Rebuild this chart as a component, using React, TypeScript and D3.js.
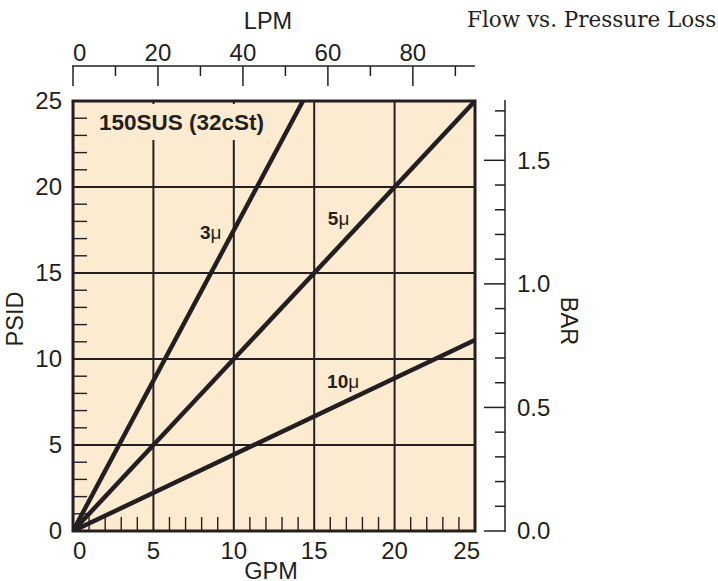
import React from 'react';
import * as d3 from 'd3';

// ---- data ----
const gpmTicks = [0, 5, 10, 15, 20, 25];
const psidTicks = [0, 5, 10, 15, 20, 25];
const lpmMajor = [0, 20, 40, 60, 80];
const lpmMinor = [10, 30, 50, 70, 90];
const barMajor = [0.0, 0.5, 1.0, 1.5];
const barMinor = [0.1, 0.2, 0.3, 0.4, 0.6, 0.7, 0.8, 0.9, 1.1, 1.2, 1.3, 1.4, 1.6, 1.7];
const seriesNames = ['3', '5', '10'];
const seriesGpm = [[0, 14.3], [0, 25], [0, 25]];
const seriesPsid = [[0, 25], [0, 25], [0, 11.1]];
const labelGpm = [7.9, 15.85, 15.8];
const labelPsid = [17.0, 17.8, 8.3];
const title = 'Flow vs. Pressure Loss';
const viscosity = '150SUS (32cSt)';

const W = 718, H = 581;
const L = 73, R = 475, T = 101, B = 531;
const INK = '#231f20';
const BG = '#fdebd1';
const SANS = '"Liberation Sans", Arial, sans-serif';
const TICK = 24;
const LAB = 23.5;

export default function App() {
  const x = d3.scaleLinear().domain([0, 25]).range([L, R]);
  const y = d3.scaleLinear().domain([0, 25]).range([B, T]);
  const lpm = d3.scaleLinear().domain([0, 25 * 3.785]).range([L, R]);
  const bar = d3.scaleLinear().domain([0, 1.74]).range([B, T]);
  const line = d3.line<[number, number]>().x(d => x(d[0])).y(d => y(d[1]));

  const minorGpm = d3.range(1, 25).filter(v => v % 5 !== 0);
  const minorPsid = d3.range(1, 25).filter(v => v % 5 !== 0);

  return (
    <svg width={W} height={H} style={{ position: 'absolute', left: 0, top: 0 }} fontFamily={SANS}>
      <defs>
        <clipPath id="plot"><rect x={L} y={T} width={R - L} height={B - T} /></clipPath>
      </defs>
      {/* title */}
      <text x={467} y={27} fontFamily='"DejaVu Serif", serif' fontSize={21.5} fill={INK}>{title}</text>
      {/* cut-off label of neighbour chart */}
      <text transform={`translate(734,322) rotate(-90)`} textAnchor="middle" fontSize={22} fill={INK}>PSID</text>

      {/* plot background */}
      <rect x={L} y={T} width={R - L} height={B - T} fill={BG} />
      {/* grid */}
      {gpmTicks.slice(1, -1).map(v => (
        <line key={'gx' + v} x1={x(v)} x2={x(v)} y1={T} y2={B} stroke={INK} strokeWidth={2} />
      ))}
      {psidTicks.slice(1, -1).map(v => (
        <line key={'gy' + v} x1={L} x2={R} y1={y(v)} y2={y(v)} stroke={INK} strokeWidth={2} />
      ))}
      {/* inner minor ticks */}
      {minorPsid.map(v => (
        <line key={'my' + v} x1={L} x2={L + 14} y1={y(v)} y2={y(v)} stroke={INK} strokeWidth={1.4} />
      ))}
      {minorGpm.map(v => (
        <line key={'mx' + v} x1={x(v)} x2={x(v)} y1={B} y2={B - 14} stroke={INK} strokeWidth={1.4} />
      ))}
      {/* viscosity label */}
      <rect x={89} y={104} width={186} height={36} fill={BG} />
      <text x={99} y={130} fontSize={22.5} fontWeight="bold" fill={INK}>{viscosity}</text>

      {/* series */}
      <g clipPath="url(#plot)">
        {seriesNames.map((n, i) => (
          <path key={'s' + n}
            d={line(seriesGpm[i].map((g, j) => [g, seriesPsid[i][j]] as [number, number])) || ''}
            fill="none" stroke={INK} strokeWidth={4.5} />
        ))}
      </g>
      {seriesNames.map((n, i) => (
        <text key={'l' + n} x={x(labelGpm[i])} y={y(labelPsid[i])} fontSize={19} fontWeight="bold" fill={INK}>
          {n}<tspan fontWeight="normal">μ</tspan>
        </text>
      ))}
      {/* border */}
      <rect x={L} y={T} width={R - L} height={B - T} fill="none" stroke={INK} strokeWidth={3} />

      {/* left axis labels */}
      {psidTicks.map(v => (
        <text key={'ly' + v} x={62} y={y(v)} dy="0.35em" textAnchor="end" fontSize={TICK} fill={INK}>{v}</text>
      ))}
      <text transform={`translate(23,319) rotate(-90)`} textAnchor="middle" fontSize={LAB} fill={INK}>PSID</text>

      {/* bottom axis labels */}
      {gpmTicks.map((v, i) => (
        <text key={'lx' + v} x={i === gpmTicks.length - 1 ? x(v) + 5 : x(v)} y={559}
          textAnchor={i === 0 ? 'start' : i === gpmTicks.length - 1 ? 'end' : 'middle'} fontSize={TICK} fill={INK}>{v}</text>
      ))}
      <text x={271} y={579} textAnchor="middle" fontSize={LAB} fill={INK}>GPM</text>

      {/* top LPM axis */}
      <line x1={lpm(0) - 1} x2={R} y1={66} y2={66} stroke={INK} strokeWidth={1.5} />
      {lpmMajor.map(v => (
        <line key={'tM' + v} x1={lpm(v)} x2={lpm(v)} y1={66} y2={86} stroke={INK} strokeWidth={1.5} />
      ))}
      {lpmMinor.map(v => (
        <line key={'tm' + v} x1={lpm(v)} x2={lpm(v)} y1={66} y2={76} stroke={INK} strokeWidth={1.5} />
      ))}
      {lpmMajor.map((v, i) => (
        <text key={'tl' + v} x={lpm(v)} y={61} textAnchor={i === 0 ? 'start' : 'middle'} fontSize={TICK} fill={INK}>{v}</text>
      ))}
      <text x={268} y={29} textAnchor="middle" fontSize={LAB} fill={INK}>LPM</text>

      {/* right BAR axis */}
      <line x1={505} x2={505} y1={T - 1} y2={B + 1} stroke={INK} strokeWidth={1.5} />
      {barMajor.map(v => (
        <line key={'rM' + v} x1={484} x2={505} y1={bar(v)} y2={bar(v)} stroke={INK} strokeWidth={1.5} />
      ))}
      {barMinor.map(v => (
        <line key={'rm' + v} x1={495} x2={505} y1={bar(v)} y2={bar(v)} stroke={INK} strokeWidth={1.5} />
      ))}
      {barMajor.map(v => (
        <text key={'rl' + v} x={517} y={bar(v)} dy="0.35em" fontSize={TICK} fill={INK}>{v.toFixed(1)}</text>
      ))}
      <text transform={`translate(561,321) rotate(90)`} textAnchor="middle" fontSize={LAB} fill={INK}>BAR</text>
    </svg>
  );
}
